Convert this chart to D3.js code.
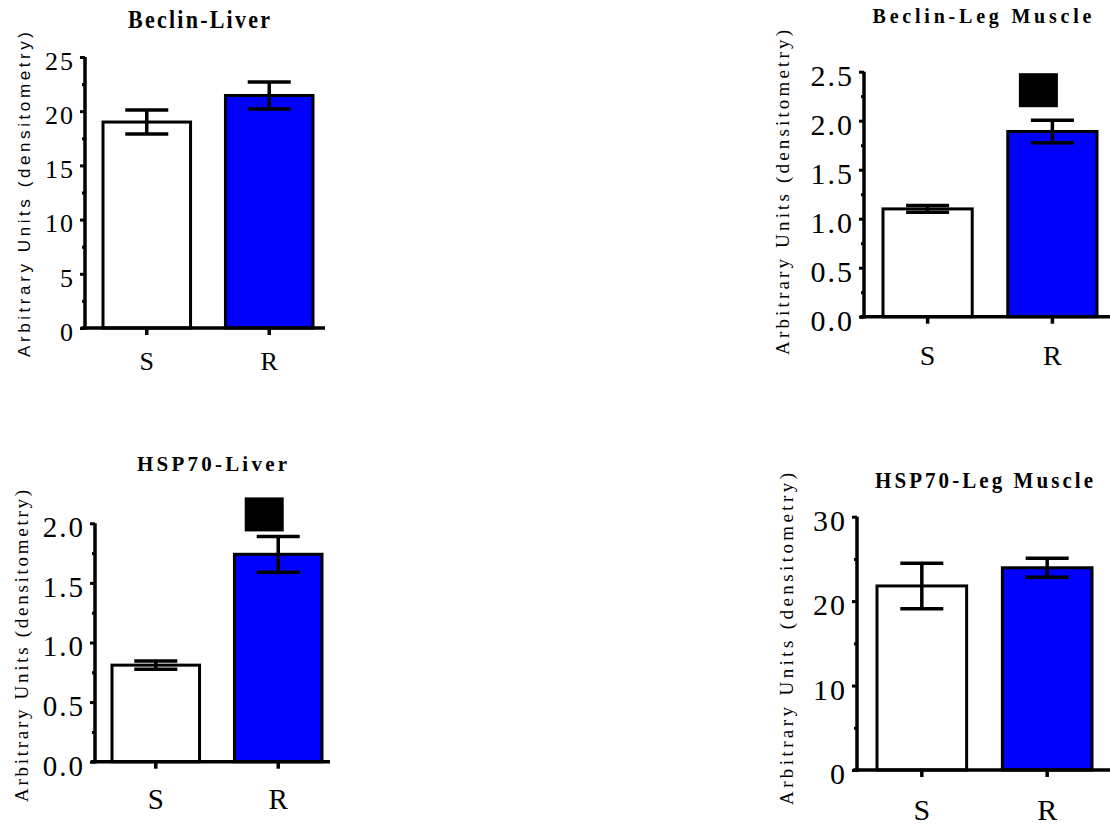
<!DOCTYPE html>
<html>
<head>
<meta charset="utf-8">
<script src="https://cdn.jsdelivr.net/npm/d3@7"></script>
<style>
  body { margin: 0; background: #fff; }
  svg { display: block; }
</style>
</head>
<body>
<svg id="chart" width="1110" height="825"></svg>
<script>
// ---- data ----
const groups = ["S", "R"];
const yLabelText = "Arbitrary Units (densitometry)";

const beclinLiverMean = [19.0, 21.45];
const beclinLiverSem = [1.1, 1.25];
const beclinLiverSig = [false, false];
const beclinLiverTicks = [0, 5, 10, 15, 20, 25];

const beclinMuscleMean = [1.10, 1.89];
const beclinMuscleSem = [0.035, 0.115];
const beclinMuscleSig = [false, true];
const beclinMuscleTicks = [0, 0.5, 1.0, 1.5, 2.0, 2.5];

const hspLiverMean = [0.81, 1.74];
const hspLiverSem = [0.035, 0.15];
const hspLiverSig = [false, true];
const hspLiverTicks = [0, 0.5, 1.0, 1.5, 2.0];

const hspMuscleMean = [21.8, 23.95];
const hspMuscleSem = [2.7, 1.12];
const hspMuscleSig = [false, false];
const hspMuscleTicks = [0, 10, 20, 30];

const barFills = ["#ffffff", "#0000ff"];

// ---- panel layout ----
const panels = [
  { title: "Beclin-Liver", mean: beclinLiverMean, sem: beclinLiverSem, sig: beclinLiverSig,
    ticks: beclinLiverTicks, fmt: d3.format("d"),
    axisX: 85, xEnd: 325, bars: [103, 313], y0: 328, yTop: 57,
    tickFs: 26, catFs: 26, catDy: 42,
    titleX: 199, titleY: 28, titleW: 142, titleFs: 22, titleSy: 1.15,
    ylabX: 30, ylabY: 194.5, ylabLen: 325, ylabFs: 17, ylabSans: true, sigGap: 10 },
  { title: "Beclin-Leg Muscle", mean: beclinMuscleMean, sem: beclinMuscleSem, sig: beclinMuscleSig,
    ticks: beclinMuscleTicks, fmt: d3.format(".1f"),
    axisX: 864, xEnd: 1112, bars: [883, 1097], y0: 316.7, yTop: 71.7,
    tickFs: 30, catFs: 28, catDy: 48,
    titleX: 982, titleY: 23, titleW: 219, titleFs: 20, titleSy: 1.0,
    ylabX: 789, ylabY: 192.5, ylabLen: 325, ylabFs: 19, ylabSans: false, sigGap: 13 },
  { title: "HSP70-Liver", mean: hspLiverMean, sem: hspLiverSem, sig: hspLiverSig,
    ticks: hspLiverTicks, fmt: d3.format(".1f"),
    axisX: 95, xEnd: 330, bars: [112, 322], y0: 761.7, yTop: 523.3,
    tickFs: 29, catFs: 29, catDy: 47,
    titleX: 212, titleY: 470.5, titleW: 150, titleFs: 21, titleSy: 1.0,
    ylabX: 28, ylabY: 646, ylabLen: 312, ylabFs: 19, ylabSans: false, sigGap: 5 },
  { title: "HSP70-Leg Muscle", mean: hspMuscleMean, sem: hspMuscleSem, sig: hspMuscleSig,
    ticks: hspMuscleTicks, fmt: d3.format("d"),
    axisX: 857, xEnd: 1112, bars: [877, 1092], y0: 770, yTop: 516.7,
    tickFs: 30, catFs: 30, catDy: 50,
    titleX: 984, titleY: 488, titleW: 218, titleFs: 21, titleSy: 1.08,
    ylabX: 793, ylabY: 639, ylabLen: 332, ylabFs: 19, ylabSans: false, sigGap: 9 }
];

const SERIF = "'Liberation Serif', 'Times New Roman', Times, serif";
const SANS = "'Liberation Sans', Arial, Helvetica, sans-serif";

const svg = d3.select("#chart");

panels.forEach(p => {
  const g = svg.append("g");
  const top = p.ticks[p.ticks.length - 1];

  const x = d3.scaleBand().domain(groups).range(p.bars).paddingInner(0.285).paddingOuter(0);
  const y = d3.scaleLinear().domain([0, top]).range([p.y0, p.yTop]);

  const rows = groups.map((k, i) => ({ key: k, mean: p.mean[i], sem: p.sem[i], sig: p.sig[i], fill: barFills[i] }));

  // bars
  g.selectAll("rect.bar").data(rows).join("rect")
    .attr("class", "bar")
    .attr("x", d => x(d.key))
    .attr("y", d => y(d.mean))
    .attr("width", x.bandwidth())
    .attr("height", d => y(0) - y(d.mean))
    .attr("fill", d => d.fill)
    .attr("stroke", "#000")
    .attr("stroke-width", 3);

  // error bars (mean ± SEM)
  const capHalf = 21.5;
  const cx = d => x(d.key) + x.bandwidth() / 2;
  const eb = g.selectAll("g.err").data(rows).join("g").attr("class", "err")
    .attr("stroke", "#000").attr("stroke-width", 3.5);
  eb.append("line")
    .attr("x1", cx).attr("x2", cx)
    .attr("y1", d => y(d.mean + d.sem)).attr("y2", d => y(d.mean - d.sem));
  eb.append("line")
    .attr("x1", d => cx(d) - capHalf).attr("x2", d => cx(d) + capHalf)
    .attr("y1", d => y(d.mean + d.sem)).attr("y2", d => y(d.mean + d.sem));
  eb.append("line")
    .attr("x1", d => cx(d) - capHalf).attr("x2", d => cx(d) + capHalf)
    .attr("y1", d => y(d.mean - d.sem)).attr("y2", d => y(d.mean - d.sem));

  // significance marker above the bar
  const markW = 39, markH = 34;
  g.selectAll("rect.sig").data(rows.filter(d => d.sig)).join("rect")
    .attr("class", "sig")
    .attr("x", d => cx(d) - 14 - markW / 2)
    .attr("y", d => y(d.mean + d.sem) - p.sigGap - markH)
    .attr("width", markW).attr("height", markH)
    .attr("fill", "#000");

  // y axis: major ticks with labels
  const yAxis = d3.axisLeft(y).tickValues(p.ticks).tickSize(5).tickSizeOuter(0).tickPadding(0)
    .tickFormat(p.fmt);
  const ya = g.append("g").attr("transform", `translate(${p.axisX},0)`).call(yAxis);
  ya.select(".domain").attr("stroke", "#000").attr("stroke-width", 3.5)
    .attr("d", `M0,${p.y0 + 1.75}V${p.yTop}`);
  ya.selectAll(".tick line").attr("stroke", "#000").attr("stroke-width", 3);
  ya.selectAll(".tick text")
    .attr("x", -10)
    .attr("dy", null)
    .attr("y", 3.5 + 0.34 * p.tickFs)
    .attr("font-family", SERIF)
    .attr("font-size", p.tickFs)
    .attr("letter-spacing", 2)
    .attr("fill", "#000");

  // y axis: minor ticks between majors
  const minor = d3.pairs(p.ticks).map(([a, b]) => (a + b) / 2);
  const yMinor = d3.axisLeft(y).tickValues(minor).tickSize(3).tickSizeOuter(0).tickFormat("");
  const ym = g.append("g").attr("transform", `translate(${p.axisX},0)`).call(yMinor);
  ym.select(".domain").remove();
  ym.selectAll(".tick line").attr("stroke", "#000").attr("stroke-width", 3);

  // x axis
  g.append("line")
    .attr("x1", p.axisX - 4).attr("x2", p.xEnd)
    .attr("y1", p.y0).attr("y2", p.y0)
    .attr("stroke", "#000").attr("stroke-width", 3.5);
  const xAxis = d3.axisBottom(x).tickSize(7).tickSizeOuter(0);
  const xa = g.append("g").attr("transform", `translate(0,${p.y0})`).call(xAxis);
  xa.select(".domain").remove();
  xa.selectAll(".tick line").attr("stroke", "#000").attr("stroke-width", 3.5);
  xa.selectAll(".tick text")
    .attr("dy", null)
    .attr("y", p.catDy)
    .attr("font-family", SERIF)
    .attr("font-size", p.catFs)
    .attr("fill", "#000");

  // title
  g.append("text")
    .attr("transform", `translate(${p.titleX},${p.titleY}) scale(1,${p.titleSy})`)
    .attr("text-anchor", "middle")
    .attr("font-family", SERIF)
    .attr("font-weight", "bold")
    .attr("font-size", p.titleFs)
    .attr("textLength", p.titleW)
    .attr("lengthAdjust", "spacing")
    .text(p.title);

  // y axis title
  g.append("text")
    .attr("transform", `translate(${p.ylabX},${p.ylabY}) rotate(-90)`)
    .attr("text-anchor", "middle")
    .attr("font-family", p.ylabSans ? SANS : SERIF)
    .attr("font-size", p.ylabFs)
    .attr("textLength", p.ylabLen)
    .attr("lengthAdjust", "spacing")
    .text(yLabelText);
});
</script>
</body>
</html>
